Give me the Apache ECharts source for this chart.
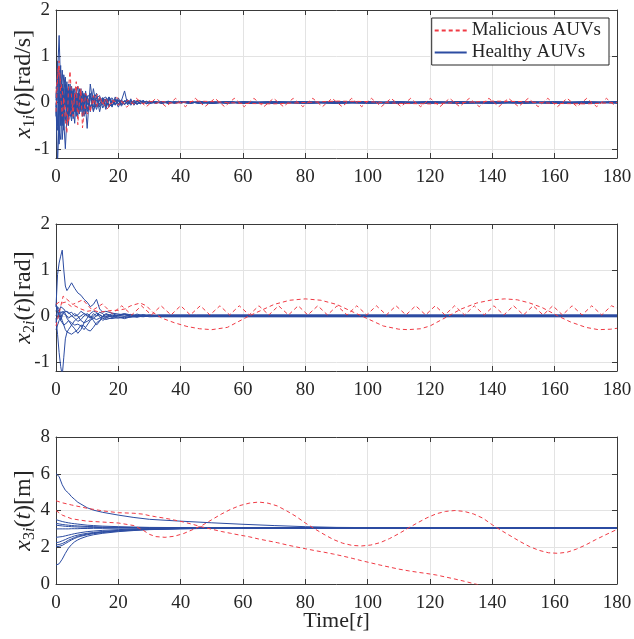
<!DOCTYPE html>
<html><head><meta charset="utf-8">
<script src="https://cdn.jsdelivr.net/npm/echarts@6/dist/echarts.min.js"></script>
<style>html,body{margin:0;padding:0;background:#fff}#c{width:634px;height:639px}</style>
</head><body><div id="c"></div><script>
// ---------- time grids ----------
const T1 = [0,0.5,1,1.5,2,2.5,3,3.5,4,4.5,5,5.5,6,6.5,7,7.5,8,8.5,9,9.5,10,11,12,13,14,15,16,17,18,19,20,21,22,23,24,25,26,27,28,29,30,32,34,36,38,40,43,46,50,55,60,70,80,90,100,110,120,130,140,150,160,170,180];
const TZ1 = [0,0.7,3.8,7.0,10.1,13.3,16.4,19.5,22.7,25.8,29.0,32.1,35.3,38.4,41.5,44.7,47.8,51.0,54.1,57.2,60.4,63.5,66.7,69.8,73.0,76.1,79.2,82.4,85.5,88.6,91.8,94.9,98.1,101.2,104.4,107.5,110.7,113.8,117.0,120.1,123.2,126.3,129.5,132.6,135.8,138.9,142.1,145.2,148.4,151.5,154.7,157.8,160.9,164.0,167.2,170.3,173.5,176.6,179.7];
const T2 = [0,0.5,1,1.5,2,2.5,3,3.5,4,5,6,7,8,9,10,11,12,13,14,15,16,18,20,22,24,26,28,30,33,36,40,45,50,60,180];
const TZ2 = [0,2.3,5.4,8.6,11.7,14.9,18.0,21.1,24.3,27.4,30.6,33.7,36.9,40.0,43.1,46.3,49.4,52.6,55.7,58.8,62.0,65.1,68.3,71.4,74.6,77.7,80.8,84.0,87.1,90.2,93.4,96.5,99.7,102.8,106.0,109.1,112.3,115.4,118.6,121.7,124.8,127.9,131.1,134.2,137.4,140.5,143.7,146.8,150.0,153.1,156.3,159.4,162.5,165.6,168.8,171.9,175.1,178.2,180];
const TS2 = [0,1,2,3,4,5,6,8,10,12,14,16,18,20,22,24,27,29,31,34,38,42,46,50,55,62,70,75,80,85,90,98,105,110,113,117,120,126,130,135,140,144,148,152,156,161,165,170,174,178,180];
const T3 = [0,1,2,3,4,5,6,7,8,10,12,15,20,25,30,40,50,60,70,80,90,100,120,180];
const TR3 = [0,2,5,10,15,20,25,28,30,32,35,38,41,44,47,50,53,56,59,62,65,68,71,74,77,80,83,86,89,92,95,98,101,104,107,110,113,116,119,122,125,128,131,134,137,140,143,146,149,152,155,158,161,164,167,170,173,176,180];

// ---------- panel 1: x1i(t) [rad/s] ----------
const x1Healthy = [
 [0.1,0.6,1.45,0.3,-0.5,0.2,0.55,-0.2,0.3,-0.3,0.25,0.1,-0.2,0.3,-0.1,0.2,-0.15,0.1,-0.2,0.15,0.05,-0.12,0.1,-0.08,0.12,-0.05,0.08,-0.1,0.05,-0.04,0.06,-0.05,0.03,-0.04,0.05,-0.02,0.03,-0.03,0.02,-0.02,0.03,-0.02,0.02,-0.01,0.02,-0.01,0.02,-0.02,0.02,-0.02,0.02,0,0.02,-0.02,0,0.02,-0.02,0,0.02,-0.02,0,0.02,0],
 [0,-1.3,-0.4,0.5,0.2,-0.4,-1.0,-0.3,0.2,-0.2,-0.4,0.1,0.3,-0.1,-0.3,0.05,0.2,-0.1,-0.3,-0.1,-0.56,0.4,-0.1,0.15,-0.2,0.1,-0.05,0.12,-0.08,0.05,-0.1,0.04,0.25,-0.05,0.08,-0.06,0.04,-0.03,0.05,-0.02,0.02,0.02,-0.02,0.03,-0.01,0.01,-0.02,0.02,-0.02,0.02,0,-0.02,0,0.02,-0.02,0,0.02,-0.02,0,0.02,-0.02,0,0],
 [0.3,0.5,-0.6,-0.8,0.1,0.6,0.3,-0.4,-0.1,0.4,0.1,-0.35,-0.1,0.2,0.35,-0.2,-0.1,0.25,0.05,-0.25,0.1,0.2,-0.2,0.1,0.15,-0.12,0.05,0.1,-0.1,0.12,-0.05,0.06,-0.04,0.03,-0.06,0.04,0.02,-0.03,0.03,-0.01,-0.02,0.01,-0.02,0.01,0.01,-0.01,0.02,0,-0.02,0.02,-0.02,0.02,-0.02,0,0.02,-0.02,0,0.02,0,-0.02,0.02,0,0.02],
 [-0.3,0.9,0.2,-0.5,0.4,-0.2,0.1,0.45,-0.5,0.15,0.3,-0.2,0.15,-0.3,0.1,0.3,-0.2,0.05,0.2,-0.15,0.1,-0.2,0.3,-0.1,0.05,0.1,-0.15,0.08,0.05,-0.06,0.1,-0.03,0.02,0.06,-0.04,0.03,-0.05,0.02,0.04,-0.02,0.01,-0.01,0.02,-0.02,0.01,0.01,-0.02,0.02,0,-0.02,0.02,-0.02,0.02,0,-0.02,0.02,0,-0.02,0.02,0,-0.02,0.02,-0.02],
 [0.2,-0.5,0.3,0.8,-0.3,-0.6,0.2,0.3,-0.3,-0.1,0.35,-0.1,-0.45,0.1,0.2,-0.1,0.1,-0.3,0.1,0.2,-0.15,0.1,0.05,-0.15,0.08,0.02,-0.1,0.06,0.1,-0.05,0.02,0.05,-0.04,0.02,0.03,-0.05,0.02,0.05,-0.02,0.03,-0.01,0.02,-0.01,0.02,-0.02,0.01,0.02,-0.02,0.02,0,-0.02,0,0.02,-0.02,0.02,0,-0.02,0.02,-0.02,0,0.02,-0.02,0],
 [-0.1,0.2,-0.9,0.1,0.7,0.1,-0.4,0.1,0.4,-0.2,-0.15,0.3,0.05,-0.2,0.15,0.05,0.3,-0.15,-0.05,0.1,-0.2,0.05,0.12,-0.08,-0.05,0.1,0.04,-0.06,0.03,0.08,-0.03,-0.02,0.04,-0.02,0.02,0.01,-0.03,0.02,-0.01,0.02,-0.01,0,0.01,-0.01,0,0.02,-0.02,0.02,-0.02,0.02,0,0.02,-0.02,0.02,0,-0.02,0.02,0,-0.02,0.02,0,-0.02,0.02],
 [0.05,0.3,0.7,-0.4,-0.2,0.3,-0.1,0.2,-0.25,0.2,-0.3,0.25,-0.1,0.15,-0.2,0.1,-0.05,0.2,-0.1,0.05,0.15,-0.1,0.05,0.2,-0.1,0.05,-0.08,0.12,-0.05,0.02,0.05,-0.08,0.04,0.01,-0.02,0.05,-0.03,0.01,0.02,-0.03,0.02,-0.01,0.02,-0.01,0.01,0,0.02,-0.02,0,0.02,-0.02,0,-0.02,0.02,0,-0.02,0.02,-0.02,0,0.02,-0.02,0,0],
 [-0.2,-0.6,0.4,0.6,-0.8,-0.3,0.4,0.2,-0.2,0.3,-0.15,-0.25,0.2,-0.05,0.05,-0.25,0.15,0.05,-0.1,0.25,-0.05,0.15,-0.18,0.05,-0.03,0.08,0.12,-0.05,-0.08,0.06,-0.02,0.03,-0.05,0.05,-0.01,-0.03,0.04,-0.02,0.01,0.02,-0.02,0.01,-0.01,0.02,-0.01,0.01,0,0.02,-0.02,0.02,-0.02,0.02,0,-0.02,0.02,-0.02,0,0.02,-0.02,0.02,0,-0.02,0.02]
];
const x1MalZig = [0.2,0.75,-0.45,0.35,-0.25,0.18,-0.14,0.11,-0.1,0.09,-0.09,0.09,-0.09,0.09,-0.09,0.09,-0.09,0.09,-0.09,0.09,-0.09,0.09,-0.09,0.09,-0.09,0.09,-0.09,0.09,-0.09,0.09,-0.09,0.09,-0.09,0.09,-0.09,0.09,-0.09,0.09,-0.09,0.09,-0.09,0.09,-0.09,0.09,-0.09,0.09,-0.09,0.09,-0.09,0.09,-0.09,0.09,-0.09,0.09,-0.09,0.09,-0.09,0.09,-0.09];
const x1MalSlow = [-0.2,0.5,0.9,0.2,-0.3,0.1,-0.4,-0.66,0.3,0.68,0.1,-0.3,0.2,0.45,-0.48,0.0,0.3,-0.55,-0.2,0.2,0.1,-0.2,0.15,-0.1,0.12,-0.05,0.1,-0.08,0.05,0.02,-0.06,0.04,-0.03,0.05,0.0,-0.04,0.05,0.02,-0.03,0.01,0.03,-0.02,0.02,0.0,-0.02,0.0,0.02,0.03,0.02,0.0,-0.02,-0.03,0.0,0.03,0.02,-0.02,-0.03,0.0,0.03,0.02,-0.02,-0.03,0.0];

// ---------- panel 2: x2i(t) [rad] ----------
const x2Healthy = [
 [0.2,0.9,1.15,1.3,1.43,1.0,0.65,0.55,0.6,0.72,0.6,0.5,0.45,0.36,0.3,0.2,0.25,0.36,0.15,0.08,0.1,0.06,0.04,0.02,0.03,0.01,0.02,0.01,0.02,0.02,0.02,0.02,0.02,0.02,0.02],
 [-0.05,-0.4,-0.8,-1.1,-1.3,-0.9,-0.5,-0.36,-0.3,-0.2,-0.1,-0.05,0.0,0.05,0.02,-0.03,-0.05,0.0,0.03,-0.02,0.0,-0.02,0.01,-0.01,0.02,0.0,-0.01,0.01,-0.02,-0.02,-0.02,-0.02,-0.02,-0.02,-0.02],
 [0.25,0.15,0.1,0.0,-0.1,-0.2,-0.3,-0.35,-0.38,-0.4,-0.35,-0.3,-0.2,-0.22,-0.3,-0.33,-0.25,-0.15,-0.1,-0.05,-0.08,-0.04,-0.05,-0.02,-0.03,-0.01,-0.02,0.0,-0.01,-0.01,-0.01,-0.01,-0.01,-0.01,-0.01],
 [-0.3,-0.2,-0.1,-0.05,0.05,0.1,0.05,-0.05,-0.1,-0.2,-0.28,-0.38,-0.3,-0.15,-0.05,0.05,0.1,0.08,-0.02,-0.1,-0.05,0.02,-0.03,-0.06,-0.02,0.02,-0.01,0.0,0.01,0.01,0.01,0.01,0.01,0.01,0.01],
 [0.1,0.2,0.15,0.05,0.1,0.05,0.02,0.0,-0.05,0.0,0.05,0.0,-0.1,-0.15,-0.12,-0.08,0.0,0.05,0.02,-0.02,0.05,0.0,0.02,0.04,0.0,-0.02,0.01,0.02,0.0,0.0,0.0,0.0,0.0,0.0,0.0],
 [-0.15,0.0,0.1,0.2,0.22,0.15,0.1,0.12,0.08,0.0,-0.05,-0.12,-0.08,0.0,0.05,0.0,-0.1,-0.2,-0.12,0.0,0.04,-0.03,0.02,0.05,0.02,0.0,0.03,-0.01,0.015,0.015,0.015,0.015,0.015,0.015,0.015],
 [0.0,0.1,0.05,-0.1,-0.15,-0.2,-0.2,-0.15,-0.1,-0.15,-0.2,-0.18,-0.22,-0.3,-0.2,-0.1,-0.05,-0.08,-0.05,-0.02,-0.04,-0.06,-0.02,-0.04,-0.01,-0.03,0.0,-0.02,-0.015,-0.015,-0.015,-0.015,-0.015,-0.015,-0.015],
 [0.22,0.1,-0.05,-0.1,0.0,0.08,0.12,0.1,0.05,0.08,0.0,0.02,0.1,0.05,0.0,-0.05,0.05,0.0,0.08,0.05,-0.02,0.05,0.0,0.03,-0.02,0.04,0.0,0.02,0.005,0.005,0.005,0.005,0.005,0.005,0.005]
];
const x2MalZig = [-0.22,0.43,0.25,0.35,0.12,0.26,0.05,0.22,0.02,0.22,0.02,0.22,0.02,0.22,0.02,0.22,0.02,0.22,0.02,0.22,0.02,0.22,0.02,0.22,0.02,0.22,0.02,0.22,0.02,0.22,0.02,0.22,0.02,0.22,0.02,0.22,0.02,0.22,0.02,0.22,0.02,0.22,0.02,0.22,0.02,0.22,0.02,0.22,0.02,0.22,0.02,0.22,0.02,0.22,0.02,0.22,0.02,0.22,0.17];
const x2MalSlow = [0.25,0.3,0.28,0.3,0.25,0.2,0.22,0.15,0.1,0.12,0.08,0.1,0.12,0.12,0.15,0.22,0.28,0.22,0.08,-0.05,-0.15,-0.23,-0.28,-0.3,-0.25,0.0,0.25,0.34,0.37,0.34,0.25,0.0,-0.22,-0.29,-0.3,-0.28,-0.22,0.0,0.15,0.28,0.35,0.37,0.35,0.28,0.18,0.0,-0.13,-0.25,-0.3,-0.29,-0.27];

// ---------- panel 3: x3i(t) [m] ----------
const x3Healthy = [
 [6.0,5.85,5.4,5.1,4.95,4.75,4.6,4.45,4.35,4.15,4.02,3.9,3.75,3.62,3.52,3.42,3.33,3.25,3.18,3.12,3.08,3.07,3.06,3.06],
 [3.5,3.45,3.4,3.36,3.33,3.3,3.28,3.26,3.24,3.2,3.18,3.15,3.12,3.1,3.08,3.07,3.06,3.06,3.05,3.05,3.05,3.05,3.05,3.05],
 [3.3,3.27,3.24,3.22,3.2,3.18,3.17,3.16,3.15,3.13,3.12,3.1,3.08,3.07,3.06,3.06,3.05,3.05,3.05,3.04,3.04,3.04,3.04,3.04],
 [3.2,3.18,3.16,3.14,3.13,3.12,3.11,3.1,3.1,3.09,3.08,3.07,3.06,3.06,3.05,3.05,3.05,3.05,3.06,3.06,3.06,3.06,3.06,3.06],
 [3.0,3.0,3.0,3.0,3.0,3.01,3.01,3.01,3.02,3.02,3.03,3.03,3.04,3.04,3.04,3.04,3.04,3.04,3.04,3.04,3.04,3.04,3.04,3.04],
 [2.54,2.56,2.58,2.62,2.66,2.7,2.74,2.77,2.8,2.85,2.88,2.92,2.96,2.99,3.01,3.03,3.04,3.05,3.05,3.05,3.05,3.05,3.05,3.05],
 [2.25,2.28,2.35,2.42,2.5,2.56,2.62,2.66,2.7,2.76,2.8,2.86,2.92,2.96,2.99,3.02,3.04,3.05,3.05,3.06,3.06,3.06,3.06,3.06],
 [2.12,2.15,2.2,2.28,2.38,2.46,2.53,2.6,2.64,2.72,2.77,2.83,2.9,2.95,2.98,3.02,3.04,3.04,3.04,3.04,3.04,3.04,3.04,3.04],
 [2.03,2.05,2.1,2.2,2.3,2.4,2.48,2.55,2.6,2.68,2.74,2.8,2.88,2.93,2.97,3.01,3.03,3.05,3.05,3.05,3.05,3.05,3.05,3.05],
 [1.03,1.1,1.35,1.67,1.95,2.15,2.3,2.4,2.48,2.6,2.68,2.76,2.85,2.91,2.96,3.0,3.03,3.04,3.05,3.05,3.05,3.05,3.05,3.05]
];
const x3MalWave = [4.0,3.75,3.55,3.42,3.37,3.32,3.18,2.92,2.7,2.58,2.54,2.6,2.75,2.97,3.2,3.5,3.8,4.06,4.27,4.4,4.46,4.4,4.25,3.98,3.68,3.32,3.0,2.7,2.42,2.22,2.1,2.07,2.12,2.25,2.47,2.74,3.04,3.33,3.6,3.82,3.95,4.0,3.95,3.81,3.58,3.22,2.9,2.6,2.3,2.03,1.83,1.7,1.67,1.73,1.9,2.13,2.4,2.65,2.97];
const x3MalDrift = [4.53,4.42,4.3,4.12,3.98,3.88,3.85,3.8,3.72,3.66,3.58,3.48,3.37,3.24,3.1,2.98,2.86,2.76,2.66,2.57,2.45,2.35,2.25,2.13,2.02,1.92,1.82,1.73,1.63,1.52,1.4,1.27,1.15,1.03,0.92,0.81,0.72,0.64,0.57,0.49,0.38,0.27,0.15,0.02,-0.1,null,null,null,null,null,null,null,null,null,null,null,null,null,null];

const yTicks12 = [-1,0,1,2];
const legendNames = ['Malicious AUVs','Healthy AUVs'];

// ---------- style ----------
const FONT = '"Liberation Serif", "Times New Roman", serif';
const RED = '#f03a44', BLUE = '#2c4ca2', AX = '#3a3a3a', GRID = '#e3e3e3', TXT = '#262626';
const zip = (T, V) => T.map((t, i) => [t, V[i]]);

const gridDefs = [{top:10,height:148},{top:224,height:147},{top:437,height:147}]
  .map(g => ({left:56, width:561, top:g.top, height:g.height, containLabel:false, outerBoundsMode:'none'}));

const rich = {
  i:{fontFamily:FONT, fontStyle:'italic', fontSize:24, color:TXT, lineHeight:28, verticalAlign:'middle'},
  n:{fontFamily:FONT, fontSize:24, color:TXT, lineHeight:28, verticalAlign:'middle'},
  s:{fontFamily:FONT, fontSize:16, color:TXT, lineHeight:28, verticalAlign:'bottom'},
  si:{fontFamily:FONT, fontStyle:'italic', fontSize:16, color:TXT, lineHeight:28, verticalAlign:'bottom'}
};
const xRich = {
  i:{fontFamily:FONT, fontStyle:'italic', fontSize:22, color:TXT},
  n:{fontFamily:FONT, fontSize:22, color:TXT}
};
const tickRich = {t:{fontFamily:FONT, fontSize:19, color:TXT}};
const tickFmt = v => '{t|' + v + '}';
const yNames = [
  '{i|x}{s|1}{si|i}{n|(}{i|t}{n|)[rad/s]}',
  '{i|x}{s|2}{si|i}{n|(}{i|t}{n|)[rad]}',
  '{i|x}{s|3}{si|i}{n|(}{i|t}{n|)[m]}'
];

const xAxis = [], yAxis = [];
for (let g = 0; g < 3; g++) {
  xAxis.push({gridIndex:g, type:'value', min:0, max:180, interval:20,
    position:'bottom',
    axisLine:{show:true, onZero:false, lineStyle:{color:AX, width:1}},
    axisTick:{show:true, inside:true, length:5, lineStyle:{color:AX}},
    axisLabel:{show:true, margin:10, formatter:tickFmt, rich:tickRich, fontFamily:FONT, fontSize:19, color:TXT},
    splitLine:{show:true, lineStyle:{color:GRID, width:1}},
    name: g === 2 ? '{n|Time[}{i|t}{n|]}' : '',
    nameLocation:'middle', nameGap:26, nameMoveOverlap:false,
    nameTextStyle:{rich:xRich}
  });
}
for (let g = 0; g < 3; g++) {
  xAxis.push({gridIndex:g, type:'value', min:0, max:180, interval:20, position:'top',
    axisLine:{show:true, onZero:false, lineStyle:{color:AX, width:1}},
    axisTick:{show:true, inside:true, length:5, lineStyle:{color:AX}},
    axisLabel:{show:false}, splitLine:{show:false}});
}
for (let g = 0; g < 3; g++) {
  const rng = g < 2 ? {min:-1.2, max:2} : {min:0, max:8, interval:2};
  const tickExtra = g < 2 ? {customValues:yTicks12} : {};
  yAxis.push(Object.assign({gridIndex:g, type:'value', position:'left'}, rng, {
    axisLine:{show:true, onZero:false, lineStyle:{color:AX, width:1}},
    axisTick:Object.assign({show:true, inside:true, length:5, lineStyle:{color:AX}}, tickExtra),
    axisLabel:Object.assign({show:true, margin:6, formatter:tickFmt, rich:tickRich, fontFamily:FONT, fontSize:19, color:TXT}, tickExtra),
    splitLine:{show:true, lineStyle:{color:GRID, width:1}},
    name: yNames[g], nameLocation:'middle', nameRotate:90, nameGap:18, nameMoveOverlap:false,
    nameTextStyle:{rich}
  }));
}
for (let g = 0; g < 3; g++) {
  const rng = g < 2 ? {min:-1.2, max:2} : {min:0, max:8, interval:2};
  const tickExtra = g < 2 ? {customValues:yTicks12} : {};
  yAxis.push(Object.assign({gridIndex:g, type:'value', position:'right'}, rng, {
    axisLine:{show:true, onZero:false, lineStyle:{color:AX, width:1}},
    axisTick:Object.assign({show:true, inside:true, length:5, lineStyle:{color:AX}}, tickExtra),
    axisLabel:{show:false}, splitLine:{show:false}
  }));
}

const series = [];
function addLine(g, T, V, mal) {
  series.push({
    type:'line', name: mal ? legendNames[0] : legendNames[1],
    xAxisIndex:g, yAxisIndex:g, data: zip(T, V),
    symbol:'none', showSymbol:false, smooth:false, clip:true, connectNulls:false,
    lineStyle: mal ? {color:RED, width:1, type:[4,3]} : {color:BLUE, width:1},
    itemStyle:{color: mal ? RED : BLUE},
    emphasis:{disabled:true}, silent:true, animation:false
  });
}
x1Healthy.forEach(v => addLine(0, T1, v, false));
x2Healthy.forEach(v => addLine(1, T2, v, false));
x3Healthy.forEach(v => addLine(2, T3, v, false));
addLine(0, TZ1, x1MalZig, true);
addLine(0, T1, x1MalSlow, true);
addLine(1, TZ2, x2MalZig, true);
addLine(1, TS2, x2MalSlow, true);
addLine(2, TR3, x3MalWave, true);
addLine(2, TR3, x3MalDrift, true);

const chart = echarts.init(document.getElementById('c'), null, {renderer:'canvas'});
chart.setOption({
  backgroundColor:'#ffffff',
  animation:false,
  textStyle:{fontFamily:FONT},
  grid: gridDefs,
  xAxis, yAxis, series,
  legend:{
    data: legendNames, orient:'vertical', right:25, top:18,
    itemWidth:32, itemHeight:12, itemGap:3, padding:[3,8,3,2],
    itemStyle:{opacity:0},
    borderColor:'#262626', borderWidth:1, backgroundColor:'#ffffff',
    formatter: name => '{t|' + name + '}',
    textStyle:{fontFamily:FONT, fontSize:19, color:TXT, rich:tickRich},
    selectedMode:false
  }
});
</script></body></html>
